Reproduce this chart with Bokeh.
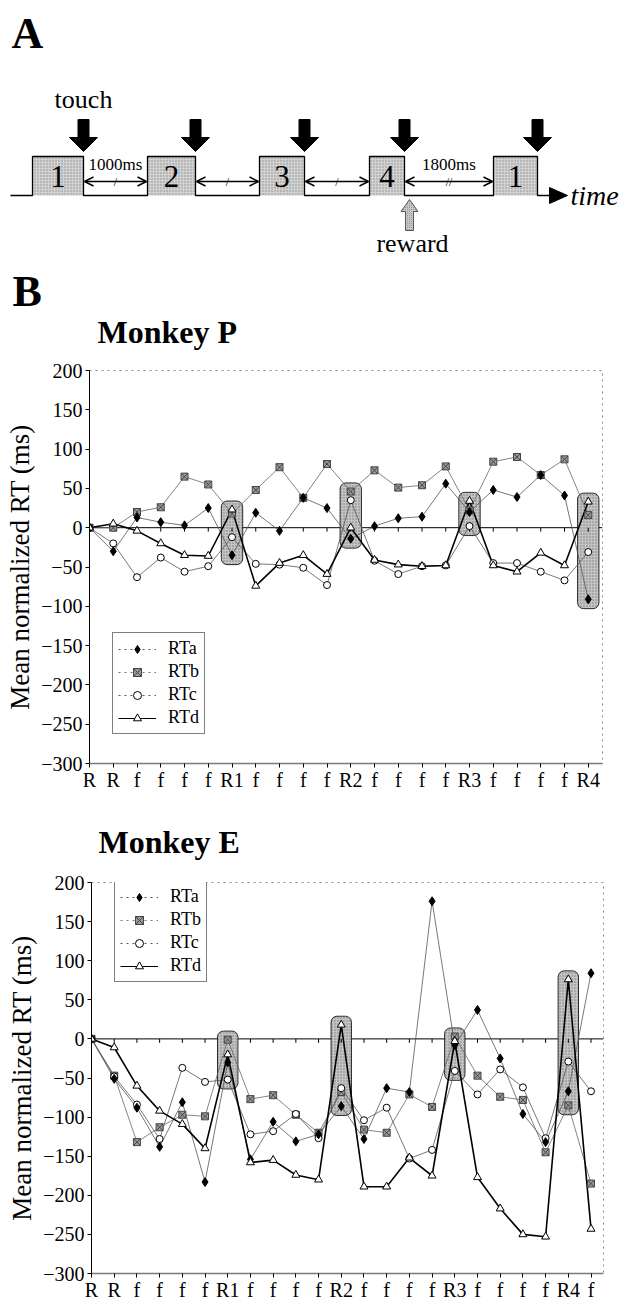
from bokeh.plotting import figure
from bokeh.models import (Range1d, FixedTicker, Legend, LegendItem, BoxAnnotation,
                          Span, Arrow, OpenHead, ColumnDataSource)
from bokeh.embed import file_html
from bokeh.resources import INLINE
from bokeh.core.properties import value

SERIF = "Liberation Serif"
NAN = float("nan")

# ---------------- data ----------------
labels_P = ["R", "R", "f", "f", "f", "f", "R1", "f", "f", "f", "f", "R2",
            "f", "f", "f", "f", "R3", "f", "f", "f", "f", "R4"]
labels_E = labels_P + ["f"]

P_RTa = [0, -30, 13, 7, 3, 25, -35, 19, -4, 38, 25, -14, 2, 12, 14, 56, 20, 48, 39, 67, 41, -91]
P_RTb = [0, 0, 20, 26, 65, 55, 18, 48, 77, 38, 81, 46, 73, 51, 54, 78, 22, 84, 90, 67, 87, 16]
P_RTc = [0, -20, -63, -38, -56, -49, -12, -46, -47, -51, -73, 35, -42, -59, -49, -48, 2, -45, -45, -56, -67, -31]
P_RTd = [0, 5, -4, -20, -35, -36, 23, -74, -45, -35, -59, 0, -41, -47, -49, -48, 34, -48, -56, -32, -48, 33]

E_RTa = [0, -51, -88, -138, -81, -183, -30, -154, -106, -131, -122, -86, -128, -63, -68, 176, -8, 37, -25, -96, -132, -67, 84]
E_RTb = [0, -47, -132, -113, -97, -99, -1, -77, -72, -97, -120, -68, -116, -120, -71, -87, 3, -47, -74, -78, -145, -85, -185]
E_RTc = [0, -48, -84, -128, -37, -55, -52, -122, -118, -96, -127, -63, -104, -88, -153, -142, -41, -71, -39, -62, -127, -29, -67]
E_RTd = [0, -11, -60, -92, -109, -140, -20, -158, -155, -174, -180, 18, -189, -189, -152, -175, -3, -177, -217, -250, -253, 76, -243]

y_ticks = [-300, -250, -200, -150, -100, -50, 0, 50, 100, 150, 200]
series_names = ["RTa", "RTb", "RTc", "RTd"]

# panel A schematic texts
stim_names = ["1", "2", "3", "4", "1"]
interval_names = ["1000ms", "", "", "1800ms"]
interval_marks = ["/", "/", "/", "//"]


def blank(width, height, top):
    """Figure whose data coordinates equal page pixel coordinates."""
    f = figure(width=width, height=height, x_range=Range1d(0, width),
               y_range=Range1d(top + height, top), toolbar_location=None, output_backend="svg",
               min_border=0, x_axis_location=None, y_axis_location=None,
               outline_line_color=None)
    f.grid.visible = False
    return f


def txt(f, x, y, s, size, style="normal", align="left"):
    f.text([x], [y], text=[s], text_font=value(SERIF), text_font_size=size,
           text_font_style=style, text_align=align, text_baseline="middle")


# ---------------- panel A (schematic) ----------------
stim_left = [32, 147, 259, 369, 493]
stim_right = [83, 195, 304, 404, 537]
BASE, TOP = 195, 156

pa = blank(623, 263, 0)
pa.quad(left=stim_left, right=stim_right, top=TOP, bottom=BASE, fill_color="#d2d2d2",
        hatch_pattern="dot", hatch_color="#8c8c8c", hatch_scale=3, line_color=None)
sx, sy = [10], [BASE]
for l, r in zip(stim_left, stim_right):
    sx += [l, l, r, r]
    sy += [BASE, TOP, TOP, BASE]
sx.append(551)
sy.append(BASE)
pa.line(sx, sy, line_color="black", line_width=1.3)
pa.patch([549, 567, 549], [187, 195, 203], fill_color="black", line_color="black")

centers = [(l + r) / 2 for l, r in zip(stim_left, stim_right)]
pa.text(centers, [176] * 5, text=stim_names, text_font=value(SERIF), text_font_size="31px",
        text_align="center", text_baseline="middle")

gx0 = [r + 1 for r in stim_right[:-1]]
gx1 = [l - 1 for l in stim_left[1:]]
gmid = [(u + v) / 2 for u, v in zip(gx0, gx1)]
asrc = ColumnDataSource(dict(x0=gx0, x1=gx1, y=[181] * 4))
pa.add_layout(Arrow(start=OpenHead(size=9, line_width=1.5), end=OpenHead(size=9, line_width=1.5),
                    x_start="x0", y_start="y", x_end="x1", y_end="y", source=asrc, line_width=1.5))
pa.text(gmid, [181] * 4, text=interval_marks, text_font=value(SERIF), text_font_size="12px",
        text_align="center", text_baseline="middle")
pa.text(gmid, [164] * 4, text=interval_names, text_font=value(SERIF), text_font_size="17px",
        text_align="center", text_baseline="middle")

axs = [[r - 5.5, r + 5.5, r + 5.5, r + 14, r, r - 14, r - 5.5] for r in stim_right]
ays = [[119, 119, 137, 137, 151, 137, 137] for _ in stim_right]
pa.patches(axs, ays, fill_color="black", line_color="black")
txt(pa, stim_right[0], 99, "touch", "26px", align="center")

rx = stim_right[3] + 5
pa.patch([rx - 4, rx - 4, rx - 8.5, rx, rx + 8.5, rx + 4, rx + 4],
         [230, 211, 211, 199, 211, 211, 230], fill_color="#c8c8c8", line_color="#555555",
         hatch_pattern="dot", hatch_color="#888888", hatch_scale=2)
txt(pa, rx + 3, 243, "reward", "26px", align="center")
txt(pa, 570, 195, "time", "28px", style="italic")
txt(pa, 11, 33, "A", "44px", style="bold")

# ---------------- headers ----------------
hB = blank(615, 95, 263)
txt(hB, 12, 291, "B", "44px", style="bold")
txt(hB, 97, 331, "Monkey P", "32px", style="bold")

hE = blank(615, 66, 800)
txt(hE, 98, 841, "Monkey E", "32px", style="bold")


# ---------------- charts ----------------
def chart(labels, a, b, c, d, height, btop, bleft, bright, bbottom, xmax, legend_y):
    n = len(labels)
    x = list(range(n))
    p = figure(width=615, height=height, x_range=Range1d(0, xmax), y_range=Range1d(-300, 200),
               toolbar_location=None, output_backend="svg",
               min_border_top=btop, min_border_left=bleft,
               min_border_right=bright, min_border_bottom=bbottom)
    p.grid.visible = False
    p.outline_line_color = "#8a8a8a"
    p.outline_line_dash = "dotted"

    p.yaxis.ticker = FixedTicker(ticks=y_ticks)
    p.yaxis.major_label_text_font = SERIF
    p.yaxis.major_label_text_font_size = "20px"
    p.yaxis.major_label_text_color = "black"
    p.yaxis.major_tick_out = 4
    p.yaxis.major_tick_in = 0
    p.yaxis.minor_tick_out = 0
    p.yaxis.minor_tick_in = 0
    p.yaxis.major_label_standoff = 3
    p.yaxis.axis_line_color = "black"
    p.yaxis.axis_label = "Mean normalized RT (ms)"
    p.yaxis.axis_label_text_font = SERIF
    p.yaxis.axis_label_text_font_size = "27px"
    p.yaxis.axis_label_text_font_style = "normal"
    p.yaxis.axis_label_text_color = "black"
    p.yaxis.axis_label_standoff = 3

    p.xaxis.ticker = FixedTicker(ticks=x)
    p.xaxis.major_label_overrides = {i: lab for i, lab in enumerate(labels)}
    p.xaxis.major_label_text_font = SERIF
    p.xaxis.major_label_text_font_size = "20px"
    p.xaxis.major_label_text_color = "black"
    p.xaxis.major_tick_out = 4
    p.xaxis.major_tick_in = 0
    p.xaxis.minor_tick_out = 0
    p.xaxis.minor_tick_in = 0
    p.xaxis.major_label_standoff = 1
    p.xaxis.axis_line_color = "#7a7a7a"
    p.xaxis.axis_line_width = 1.5

    p.add_layout(Span(location=0, dimension="width", line_color="black", line_width=1,
                      level="underlay"))

    r_idx = [i for i, lab in enumerate(labels) if lab.startswith("R") and lab != "R"]
    for i in r_idx:
        vals = [a[i], b[i], c[i], d[i]]
        p.add_layout(BoxAnnotation(left=i - 0.45, right=i + 0.45,
                                   top=max(vals) + 11, bottom=min(vals) - 12,
                                   fill_color="#c4c4c4", fill_alpha=1.0,
                                   hatch_pattern="dot", hatch_color="#7a7a7a", hatch_scale=3,
                                   line_color="black", line_width=0.8, line_alpha=1.0,
                                   border_radius=6, level="underlay"))
    p.segment(x0=x, y0=[0] * n, x1=x, y1=[-5] * n, line_color="black", line_width=1)

    p.line(x, a, line_color="#555555", line_width=0.8)
    p.line(x, b, line_color="#666666", line_width=0.8)
    p.line(x, c, line_color="#555555", line_width=0.8)
    p.line(x, d, line_color="black", line_width=1.6)
    p.scatter(x, b, marker="square_x", size=7, fill_color="#9a9a9a", line_color="#444444")
    p.scatter(x, c, marker="circle", size=7, fill_color="white", line_color="black")
    p.scatter(x, a, marker="diamond", size=9, fill_color="black", line_color="black")
    p.scatter(x, d, marker="triangle", size=8, fill_color="white", line_color="black")

    # legend sample glyphs (not plotted: NaN positions)
    def sample(dash, lcolor, marker, size, fill, mline):
        ln = p.line([NAN], [NAN], line_color=lcolor, line_dash=dash, line_width=1)
        mk = p.scatter([NAN], [NAN], marker=marker, size=size, fill_color=fill, line_color=mline)
        return [ln, mk]

    rends = [sample("dotted", "#555555", "diamond", 9, "black", "black"),
             sample("dotted", "#777777", "square_x", 7, "#9a9a9a", "#444444"),
             sample("dotted", "#555555", "circle", 7, "white", "black"),
             sample("solid", "black", "triangle", 8, "white", "black")]
    items = [LegendItem(label=nm, renderers=r) for nm, r in zip(series_names, rends)]
    leg = Legend(items=items, location=(23, legend_y), border_line_color="black",
                 border_line_width=1, background_fill_color="white", background_fill_alpha=1,
                 label_text_font=SERIF, label_text_font_size="18px", label_text_color="black",
                 glyph_width=38, glyph_height=20, label_height=20, spacing=2, padding=5,
                 margin=0, label_standoff=12)
    p.add_layout(leg)
    return p


pP = chart(labels_P, P_RTa, P_RTb, P_RTc, P_RTd, height=442, btop=12, bleft=89, bright=13,
           bbottom=37, xmax=21.6, legend_y=29)
pE = chart(labels_E, E_RTa, E_RTb, E_RTc, E_RTd, height=437, btop=16, bleft=91, bright=12,
           bbottom=27, xmax=22.55, legend_y=291)

open("out.html", "w").write(file_html([pa, hB, pP, hE, pE], INLINE, title="RT figure"))
